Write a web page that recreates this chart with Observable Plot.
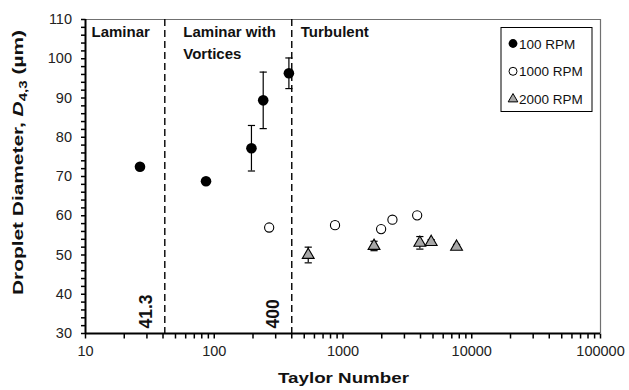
<!DOCTYPE html>
<html><head><meta charset="utf-8">
<script src="https://cdn.jsdelivr.net/npm/d3@7"></script>
<script src="https://cdn.jsdelivr.net/npm/@observablehq/plot@0.6"></script>
<style>body{margin:0;background:#fff} #chart{width:629px;height:390px}</style>
</head><body><div id="chart"></div>
<script>
// ---- data ----
const seriesNames = ["100 RPM", "1000 RPM", "2000 RPM"];
const taylor100 = [26.5, 86.3, 194.5, 240, 380];
const diam100 = [72.5, 68.8, 77.2, 89.4, 96.3];
const err100 = [0, 0, 5.8, 7.2, 3.9];
const taylor1000 = [267, 867, 1977, 2421, 3767];
const diam1000 = [57.0, 57.6, 56.6, 59.0, 60.1];
const err1000 = [0, 0.8, 0, 0, 0];
const taylor2000 = [537, 1742, 3953, 4841, 7620];
const diam2000 = [50.0, 52.3, 53.1, 53.3, 52.1];
const err2000 = [2.0, 1.2, 1.6, 0.6, 0.6];
const regimeBounds = [41.3, 400];
const regimeLabels = ["Laminar", "Laminar with\nVortices", "Turbulent"];
const regimeStarts = [10, 41.3, 400];
const xTicks = [10, 100, 1000, 10000, 100000];
const yTicks = [30, 40, 50, 60, 70, 80, 90, 100, 110];
const xTitle = "Taylor Number";

const rows = [];
function addRows(name, xs, ys, es) { xs.forEach((x, i) => rows.push({series: name, x, y: ys[i], e: es[i]})); }
addRows(seriesNames[0], taylor100, diam100, err100);
addRows(seriesNames[1], taylor1000, diam1000, err1000);
addRows(seriesNames[2], taylor2000, diam2000, err2000);
const errRows = rows.filter(d => d.e > 0);

const xAllTicks = d3.scaleLog().domain([10, 100000]).ticks();
const yAllTicks = d3.range(30, 111, 2);

const capSymbol = {draw(ctx, size) { const r = Math.sqrt(size / Math.PI); ctx.moveTo(-r, 0); ctx.lineTo(r, 0); }};
const tickDown = {draw(ctx, size) { const r = Math.sqrt(size / Math.PI); ctx.moveTo(0, 0); ctx.lineTo(0, r); }};
const tickLeft = {draw(ctx, size) { const r = Math.sqrt(size / Math.PI); ctx.moveTo(0, 0); ctx.lineTo(-r, 0); }};
const FONT = "'Liberation Sans', Arial, Helvetica, sans-serif";
const GRAY_TRI = "#a8a8a8";

const svg = Plot.plot({
  width: 629, height: 390,
  marginLeft: 85, marginRight: 29, marginTop: 19, marginBottom: 57,
  style: {fontFamily: FONT, fontSize: "14.5px", background: "#fff", color: "#000", overflow: "visible"},
  x: {type: "log", domain: [10, 100000]},
  y: {domain: [30, 110]},
  marks: [
    Plot.ruleY([110], {stroke: "#707070", strokeWidth: 1.2}),
    Plot.ruleX([100000], {stroke: "#707070", strokeWidth: 1.2}),
    Plot.ruleX(regimeBounds, {x: d => d, stroke: "#000", strokeWidth: 1.4, strokeDasharray: "7,4"}),
    Plot.axisX(xTicks, {tickSize: 0, tickPadding: 12, fontSize: 14.5, fill: "#222", tickFormat: d => String(d), label: null}),
    Plot.axisY(yTicks, {tickSize: 0, tickPadding: 13.5, fontSize: 14.5, fill: "#222", label: null}),
    Plot.dot(xAllTicks, {x: d => d, y: () => 30, symbol: tickDown, r: 5, stroke: "#000", strokeWidth: 1.5}),
    Plot.dot(yAllTicks, {x: () => 10, y: d => d, symbol: tickLeft, r: 4.5, stroke: "#000", strokeWidth: 1.5}),
    Plot.ruleY([30], {stroke: "#000", strokeWidth: 2}),
    Plot.ruleX([10], {stroke: "#000", strokeWidth: 2}),
    Plot.ruleX(errRows, {x: "x", y1: d => d.y - d.e, y2: d => d.y + d.e, stroke: "#000", strokeWidth: 1.2}),
    Plot.dot(errRows, {x: "x", y: d => d.y + d.e, symbol: capSymbol, r: 3.6, stroke: "#000", strokeWidth: 1.2}),
    Plot.dot(errRows, {x: "x", y: d => d.y - d.e, symbol: capSymbol, r: 3.6, stroke: "#000", strokeWidth: 1.2}),
    Plot.dot(rows.filter(d => d.series === seriesNames[0]), {x: "x", y: "y", r: 5.3, fill: "#000", stroke: "none"}),
    Plot.dot(rows.filter(d => d.series === seriesNames[1]), {x: "x", y: "y", r: 4.6, fill: "#fff", stroke: "#000", strokeWidth: 1.1}),
    Plot.dot(rows.filter(d => d.series === seriesNames[2]), {x: "x", y: "y", symbol: "triangle", r: 4.4, fill: GRAY_TRI, stroke: "#000", strokeWidth: 1.1}),
    Plot.text([0], {x: () => regimeStarts[0], text: () => regimeLabels[0], frameAnchor: "top", textAnchor: "start", lineAnchor: "top", dx: 6, dy: 7, fontWeight: "bold", fontSize: 15, fill: "#111"}),
    Plot.text([1], {x: () => regimeStarts[1], text: () => regimeLabels[1], frameAnchor: "top", textAnchor: "start", lineAnchor: "top", dx: 18.5, dy: 1.5, lineHeight: 1.47, fontWeight: "bold", fontSize: 15, fill: "#111"}),
    Plot.text([2], {x: () => regimeStarts[2], text: () => regimeLabels[2], frameAnchor: "top", textAnchor: "start", lineAnchor: "top", dx: 9, dy: 7, fontWeight: "bold", fontSize: 15, fill: "#111"}),
    Plot.text(regimeBounds, {x: d => d, text: d => String(d), frameAnchor: "bottom", rotate: -90, textAnchor: "start", lineAnchor: "middle", dx: -18, dy: -5, fontWeight: "bold", fontSize: 17.5, fill: "#111"})
  ]
});
document.getElementById("chart").appendChild(svg);

const s = d3.select(svg);
// x title
s.append("text").attr("font-family", FONT).attr("font-weight", "bold").attr("font-size", 15).attr("fill", "#111")
  .attr("text-anchor", "middle").attr("x", 343.5).attr("y", 383)
  .attr("textLength", 131).attr("lengthAdjust", "spacingAndGlyphs").text(xTitle);
// y title
const yt = s.append("text").attr("font-family", FONT).attr("font-weight", "bold").attr("font-size", 14.5).attr("fill", "#111")
  .attr("text-anchor", "middle").attr("transform", "translate(22.7,162.5) rotate(-90)")
  .attr("textLength", 265).attr("lengthAdjust", "spacingAndGlyphs");
yt.append("tspan").text("Droplet Diameter, ");
yt.append("tspan").attr("font-style", "italic").text("D");
yt.append("tspan").attr("font-size", 10.5).attr("dy", 4).text("4,3");
yt.append("tspan").attr("dy", -4).text(" (\u00b5m)");

// legend
const lg = s.append("g").attr("font-family", FONT).attr("font-size", 13.5).attr("fill", "#111").attr("text-anchor", "start");
lg.append("rect").attr("x", 501).attr("y", 27.5).attr("width", 91).attr("height", 84).attr("fill", "#fff").attr("stroke", "#000").attr("stroke-width", 1);
const legendStyles = [
  {sym: d3.symbolCircle, r: 4.4, fill: "#000", stroke: "none"},
  {sym: d3.symbolCircle, r: 4, fill: "#fff", stroke: "#000"},
  {sym: d3.symbolTriangle2, r: 4.6, fill: GRAY_TRI, stroke: "#000"}
];
seriesNames.forEach((name, i) => {
  const cy = 43.5 + i * 27.8;
  const st = legendStyles[i];
  lg.append("path").attr("transform", `translate(513,${cy})`).attr("d", d3.symbol(st.sym, Math.PI * st.r * st.r)()).attr("fill", st.fill).attr("stroke", st.stroke).attr("stroke-width", 1);
  lg.append("text").attr("x", 519).attr("y", cy + 5).attr("text-anchor", "start").text(name);
});
</script>
</body></html>
